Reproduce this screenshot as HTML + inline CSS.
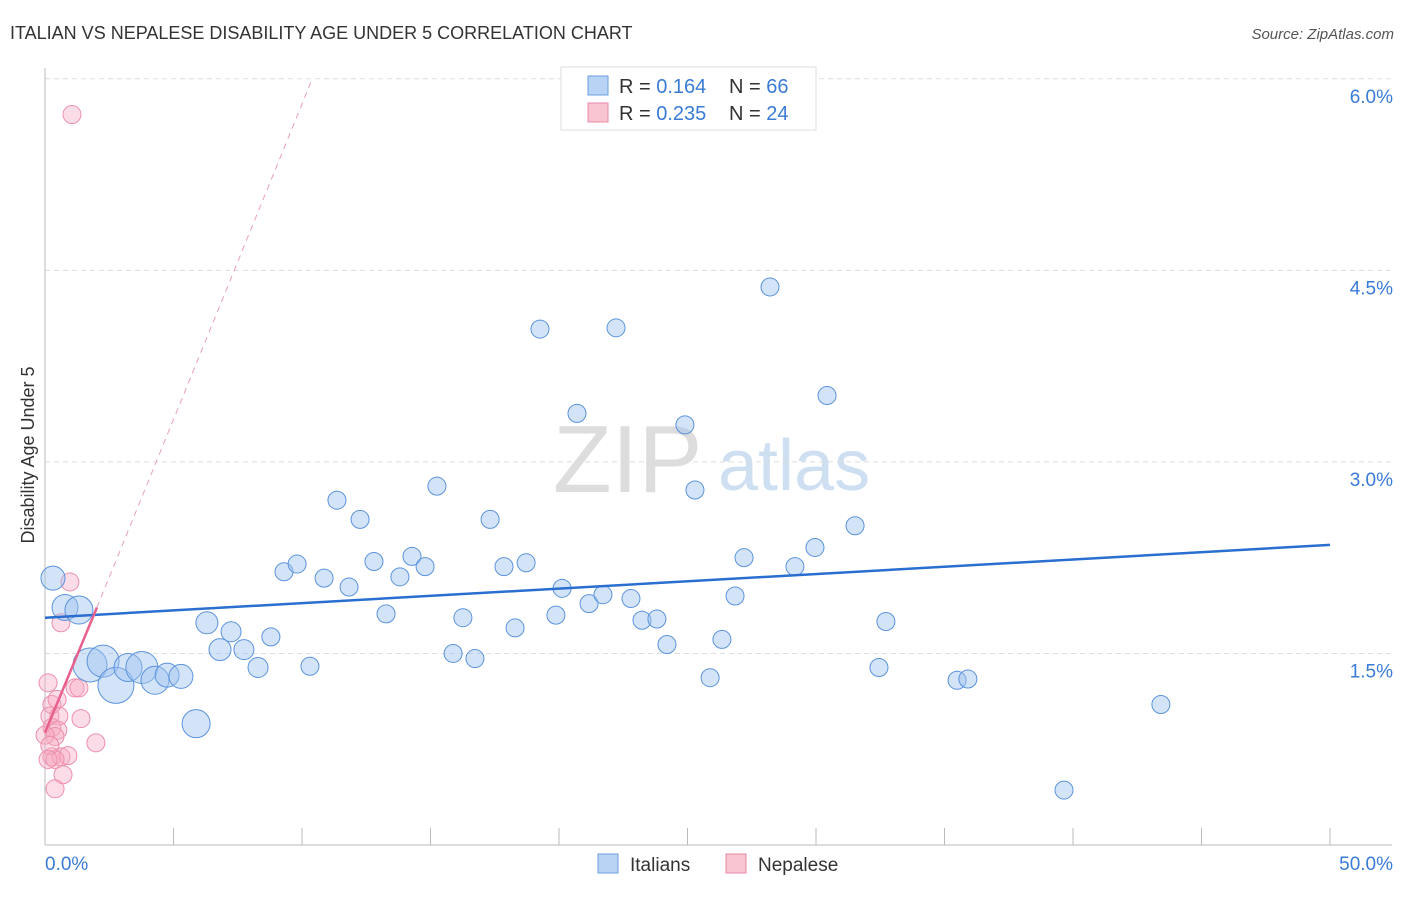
<!DOCTYPE html>
<html><head><meta charset="utf-8"><style>
body{margin:0;background:#fff;font-family:"Liberation Sans",sans-serif}
svg text{font-family:"Liberation Sans",sans-serif}
</style></head><body>
<svg id="chart" width="1406" height="892" xmlns="http://www.w3.org/2000/svg">
<text x="10" y="39" font-size="18" fill="#333">ITALIAN VS NEPALESE DISABILITY AGE UNDER 5 CORRELATION CHART</text>
<text x="1394" y="39" font-size="15" fill="#555" text-anchor="end" font-style="italic">Source: ZipAtlas.com</text>
<g>
<text x="553" y="492" font-size="96" fill="#ddd" font-family="Liberation Serif">ZIP</text>
<text x="718" y="490" font-size="72" fill="#cfdff2">atlas</text>
</g>
<g id="grid"></g>
<g id="axes"></g>
<g id="pts"></g>
<g id="lines"></g>
<text transform="translate(34,455) rotate(-90)" font-size="18" fill="#333" text-anchor="middle">Disability Age Under 5</text>
<g>
<rect x="561" y="67" width="255" height="63" fill="#fff" stroke="#ddd"/>
<rect x="588" y="76" width="20" height="19" fill="#b8d3f4" stroke="#6a9fe0"/>
<rect x="588" y="103" width="20" height="19" fill="#f9c4d2" stroke="#e88aa6"/>
<text x="619" y="93" font-size="20" fill="#333">R = <tspan fill="#3a7bd5">0.164</tspan></text>
<text x="729" y="93" font-size="20" fill="#333">N = <tspan fill="#3a7bd5">66</tspan></text>
<text x="619" y="120" font-size="20" fill="#333">R = <tspan fill="#3a7bd5">0.235</tspan></text>
<text x="729" y="120" font-size="20" fill="#333">N = <tspan fill="#3a7bd5">24</tspan></text>
</g>
<g>
<rect x="598" y="854" width="20" height="19" fill="#b8d3f4" stroke="#6a9fe0"/>
<text x="630" y="871" font-size="19" fill="#333">Italians</text>
<rect x="726" y="854" width="20" height="19" fill="#f9c4d2" stroke="#e88aa6"/>
<text x="758" y="871" font-size="19" fill="#333">Nepalese</text>
</g>
</svg>
<script>
const xTicks=[0,5,10,15,20,25,30,35,40,45,50];
const yTicks=[1.5,3.0,4.5,6.0];
const italians=[[0.31,2.09,12],[0.78,1.86,13],[1.32,1.84,14],[1.75,1.41,17],[2.26,1.44,16],[2.76,1.25,18],[3.23,1.39,14],[3.77,1.39,16],[4.28,1.29,14],[4.75,1.33,12],[5.29,1.32,12],[5.88,0.95,14],[6.30,1.74,11],[6.81,1.53,11],[7.24,1.67,10],[7.74,1.53,10],[8.29,1.39,10],[8.79,1.63,9],[9.30,2.14,9],[9.81,2.20,9],[10.31,1.40,9],[10.86,2.09,9],[11.36,2.70,9],[11.83,2.02,9],[12.26,2.55,9],[12.80,2.22,9],[13.27,1.81,9],[13.81,2.10,9],[14.28,2.26,9],[14.79,2.18,9],[15.25,2.81,9],[15.88,1.50,9],[16.26,1.78,9],[16.73,1.46,9],[17.32,2.55,9],[17.86,2.18,9],[18.29,1.70,9],[18.72,2.21,9],[19.26,4.04,9],[19.88,1.80,9],[20.12,2.01,9],[20.70,3.38,9],[21.17,1.89,9],[21.71,1.96,9],[22.22,4.05,9],[22.80,1.93,9],[23.23,1.76,9],[23.81,1.77,9],[24.20,1.57,9],[24.90,3.29,9],[25.29,2.78,9],[25.88,1.31,9],[26.34,1.61,9],[26.85,1.95,9],[27.20,2.25,9],[28.21,4.37,9],[29.18,2.18,9],[29.96,2.33,9],[30.43,3.52,9],[31.52,2.50,9],[32.45,1.39,9],[32.72,1.75,9],[35.49,1.29,9],[35.91,1.30,9],[39.65,0.43,9],[43.42,1.10,9]];
const nepalese=[[1.05,5.72,9],[0.97,2.06,9],[0.62,1.74,9],[0.12,1.27,9],[1.17,1.23,9],[1.32,1.23,9],[0.27,1.10,9],[0.19,1.01,9],[0.54,1.01,9],[1.40,0.99,9],[0.27,0.92,9],[0.50,0.90,9],[0.39,0.85,9],[1.98,0.80,9],[0.27,0.69,9],[0.62,0.69,9],[0.89,0.70,9],[0.39,0.67,9],[0.70,0.55,9],[0.39,0.44,9],[0.0,0.86,9],[0.19,0.78,9],[0.47,1.14,9],[0.12,0.67,9]];
const italianTrend=[[0,1.78],[50,2.35]];
const nepaleseTrend=[[0,0.88],[2.02,1.86]];
const nepaleseDash=[[2.02,1.86],[10.4,6.0]];
const NS='http://www.w3.org/2000/svg';
const X=v=>45+v*25.7, Y=v=>845-v*127.7;
function mk(t,a,p){const e=document.createElementNS(NS,t);for(const k in a)e.setAttribute(k,a[k]);document.getElementById(p).appendChild(e);return e;}
yTicks.forEach(t=>{
 const l=mk('line',{x1:45,x2:1392,y1:Y(t),y2:Y(t),stroke:'#ddd','stroke-dasharray':'5,4'},'grid');
 
 
 const tx=mk('text',{x:1393,y:Y(t)+24,'font-size':19,fill:'#3a7bd5','text-anchor':'end'},'axes');
 tx.textContent=t.toFixed(1)+'%';
 
 
});
const ax=mk('line',{x1:45,x2:45,y1:68,y2:845,stroke:'#bbb'},'axes');


const bx=mk('line',{x1:45,x2:1392,y1:845,y2:845,stroke:'#bbb'},'axes');


xTicks.forEach(t=>{
 const l=mk('line',{x1:X(t),x2:X(t),y1:828,y2:845,stroke:'#bbb'},'axes');
 
 
});
[[0,'0.0%','start',45],[50,'50.0%','end',1393]].forEach(([v,s,a,x])=>{
 const tx=mk('text',{x:x,y:870,'font-size':19,fill:'#3a7bd5','text-anchor':a},'axes');
 tx.textContent=s;
 
 
});
nepalese.forEach(p=>{
 const c=mk('circle',{cx:X(p[0]),cy:Y(p[1]),r:p[2],fill:'rgba(247,170,195,0.4)',stroke:'#ec8fab','stroke-width':1},'pts');
 
 
});
italians.forEach(p=>{
 const c=mk('circle',{cx:X(p[0]),cy:Y(p[1]),r:p[2],fill:'rgba(160,196,240,0.45)',stroke:'#5b93dc','stroke-width':1},'pts');
 
 
});
function line(d,attrs,name){const l=mk('line',Object.assign({x1:X(d[0][0]),y1:Y(d[0][1]),x2:X(d[1][0]),y2:Y(d[1][1])},attrs),'lines');
 
 }
line(italianTrend,{stroke:'#2a6fd0','stroke-width':2.5},'italian-trendline');
line(nepaleseTrend,{stroke:'#e8608c','stroke-width':2.5},'nepalese-trendline');
line(nepaleseDash,{stroke:'#e8a0b8','stroke-width':1,'stroke-dasharray':'6,5'},'nepalese-trend-extension');
</script>
</body></html>
